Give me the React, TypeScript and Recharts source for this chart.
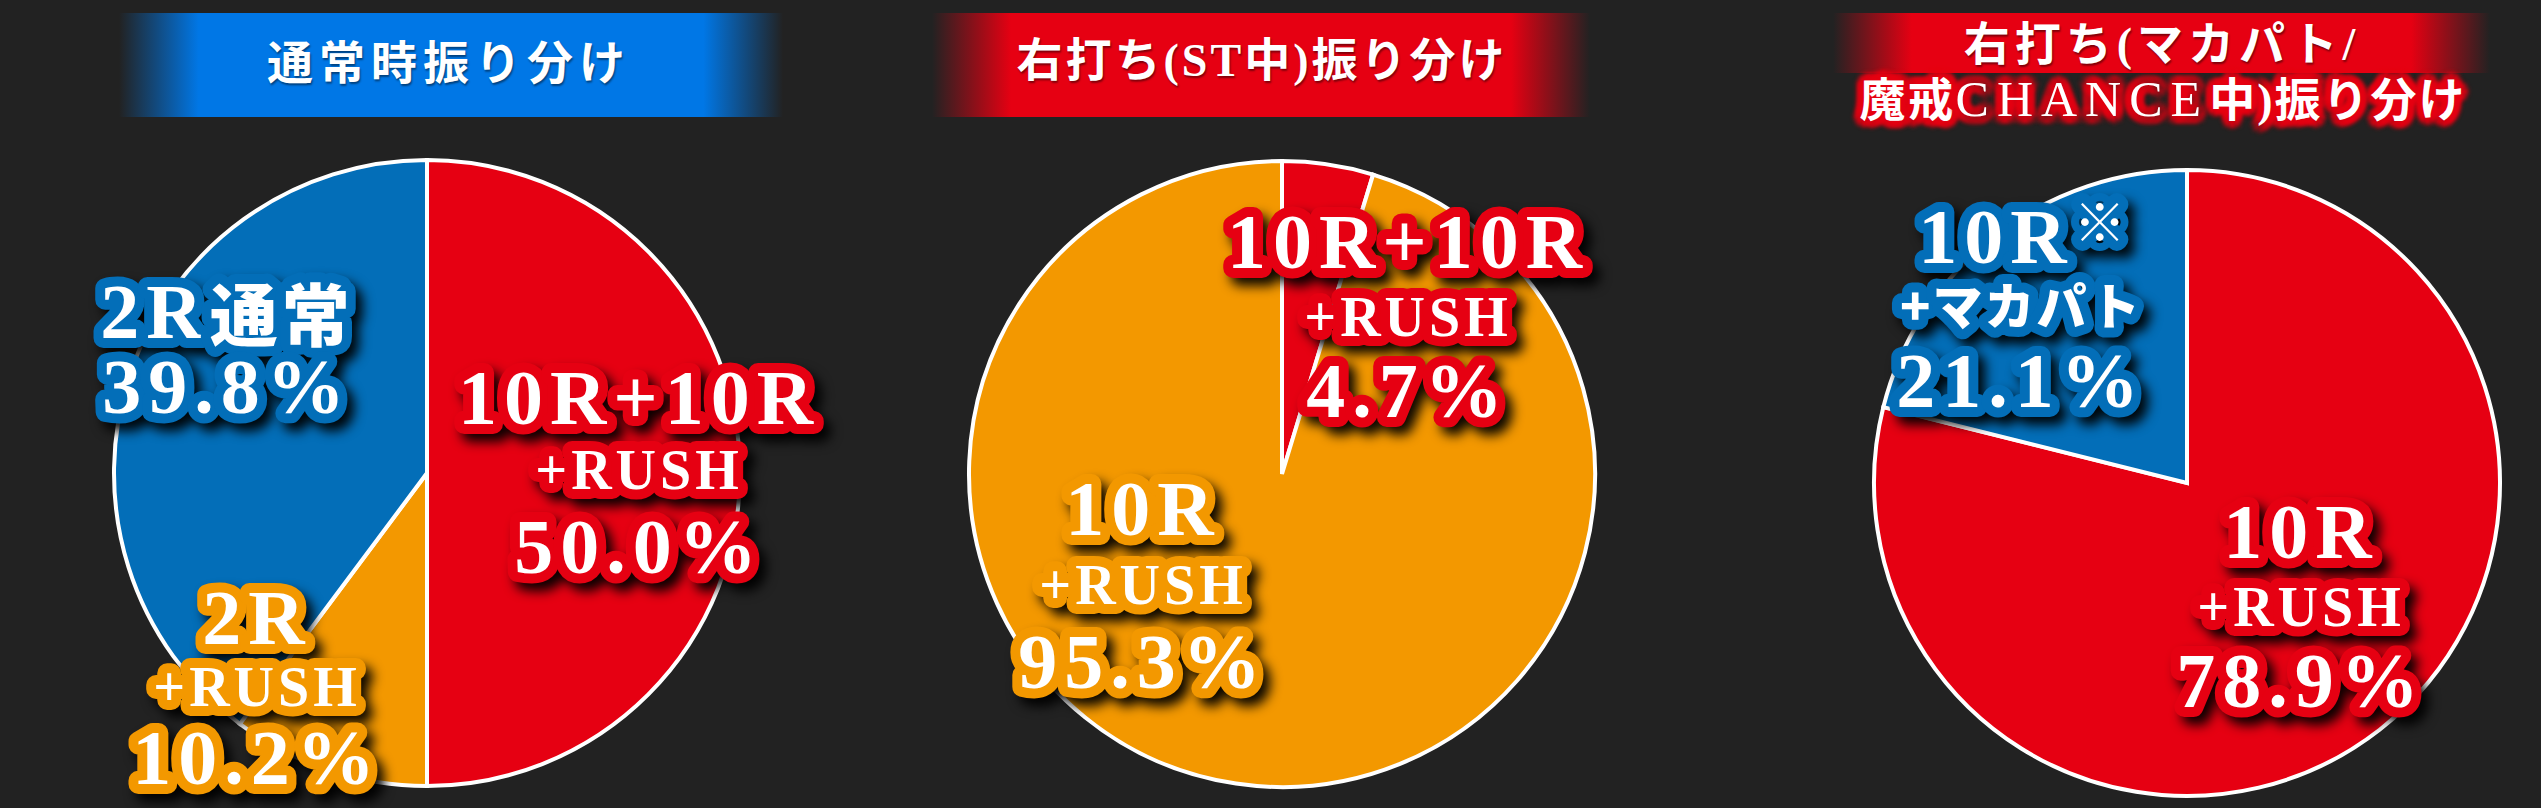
import React from 'react'
import { PieChart, Pie, Cell } from 'recharts'

const W = 2541
const H = 808

const RED = '#e60012'
const ORANGE = '#f39800'
const BLUE = '#036eb8'
const HEAD_BLUE = '#0077e6'

// 通常時振り分け
const normalHeads = [['10R+10R', '+RUSH'], ['2R', '+RUSH'], ['2R通常']]
const normalValues = [50.0, 10.2, 39.8]
const normalColors = [RED, ORANGE, BLUE]

// 右打ち(ST中)振り分け
const stHeads = [['10R+10R', '+RUSH'], ['10R', '+RUSH']]
const stValues = [4.7, 95.3]
const stColors = [RED, ORANGE]

// 右打ち(マカパト/魔戒CHANCE中)振り分け
const makaHeads = [['10R', '+RUSH'], ['10R※', '+マカパト']]
const makaValues = [78.9, 21.1]
const makaColors = [RED, BLUE]

const toRows = (heads: string[][], values: number[]) =>
  values.map((v, i) => ({ name: heads[i].join(''), value: v }))

// ラベル位置（円の中心からのずれ）
const normalSpots = [
  { dx: 212, ys: [-76, -3, 73] },
  { dx: -170, ys: [144, 214, 284] },
  { dx: -200, ys: [-162, -87] },
]
const stSpots = [
  { dx: 126, ys: [-233, -157, -84] },
  { dx: -139, ys: [34, 111, 187] },
]
const makaSpots = [
  { dx: 114, ys: [48, 124, 197] },
  { dx: -166, ys: [-247, -180, -103] },
]

const LATIN = "'Liberation Serif', 'Noto Sans CJK JP', serif"
const CJK = "'Noto Sans CJK JP', sans-serif"

const BIG = 78
const SMALL = 56
const BIG_SP = 7
const SMALL_SP = 4

// Liberation Serif Bold の字幅（em）
const ADV: Record<string, number> = {
  '0': 0.5, '1': 0.5, '2': 0.5, '3': 0.5, '4': 0.5, '5': 0.5, '6': 0.5, '7': 0.5, '8': 0.5, '9': 0.5,
  R: 0.722, U: 0.722, S: 0.556, H: 0.778, '+': 0.57, '.': 0.25, '%': 1.0,
}

type Seg = { t: string; font: string; size: number; sp: number; lift: number; width: number }

function segments(text: string, small: boolean): Seg[] {
  const size = small ? SMALL : BIG
  const sp = small ? SMALL_SP : BIG_SP
  if (text.includes('マカパト')) {
    const s = 50
    return [{ t: text, font: CJK, size: s, sp: 2, lift: 0, width: text.length * s }]
  }
  const m = text.match(/^([0-9A-Z+.%]*)(.*)$/)
  const head = m ? m[1] : text
  const rest = m ? m[2] : ''
  const out: Seg[] = []
  const w = head.split('').reduce((a, c) => a + (ADV[c] ?? 0.6) * size + sp, 0)
  out.push({ t: head, font: LATIN, size, sp, lift: 0, width: w })
  if (rest === '※') {
    out.push({ t: rest, font: CJK, size: 52, sp: 0, lift: -17, width: 50 })
  } else if (rest) {
    out.push({ t: rest, font: CJK, size: 68, sp: 4, lift: 0, width: rest.length * 72 })
  }
  return out
}

function Line({ x, y, text, color }: { x: number; y: number; text: string; color: string }) {
  const small = text.includes('RUSH') || text.includes('マカパト')
  const segs = segments(text, small)
  const total = segs.reduce((a, s) => a + s.width, 0)
  let left = x - total / 2
  return (
    <>
      {segs.map((s, k) => {
        const sx = left
        left += s.width
        return (
          <text
            key={k}
            x={segs.length === 1 ? x : sx}
            y={y + s.lift}
            textAnchor={segs.length === 1 ? 'middle' : 'start'}
            dominantBaseline="central"
            fill="#fff"
            stroke={color}
            strokeWidth={20}
            strokeLinejoin="round"
            paintOrder="stroke"
            fontFamily={s.font}
            fontWeight={s.font === CJK ? 900 : 700}
            fontSize={s.size}
            style={{ letterSpacing: s.sp }}
          >
            {s.t}
          </text>
        )
      })}
    </>
  )
}

function LabelBlock({ x, ys, lines, color }: { x: number; ys: number[]; lines: string[]; color: string }) {
  return (
    <g style={{ filter: 'drop-shadow(7px 8px 6px rgba(0,0,0,0.95))' }}>
      {lines.map((t, k) => (
        <Line key={k} x={x} y={ys[k]} text={t} color={color} />
      ))}
    </g>
  )
}

const makeLabel =
  (cx: number, cy: number, heads: string[][], values: number[], spots: { dx: number; ys: number[] }[], colors: string[]) =>
  (props: any) => {
    const i = props.index
    const spot = spots[i]
    const lines = [...heads[i], `${values[i].toFixed(1)}%`]
    return (
      <LabelBlock key={`l-${cx}-${i}`} x={cx + spot.dx} ys={spot.ys.map((v) => cy + v)} lines={lines} color={colors[i]} />
    )
  }

const PIES = [
  { cx: 427, cy: 473, heads: normalHeads, values: normalValues, colors: normalColors, spots: normalSpots },
  { cx: 1282, cy: 474, heads: stHeads, values: stValues, colors: stColors, spots: stSpots },
  { cx: 2187, cy: 483, heads: makaHeads, values: makaValues, colors: makaColors, spots: makaSpots },
]

function Band({ left, width, top, height, color }: { left: number; width: number; top: number; height: number; color: string }) {
  return (
    <div
      style={{
        position: 'absolute',
        left,
        top,
        width,
        height,
        background: `linear-gradient(to right, rgba(34,34,34,0) 0%, ${color} 12%, ${color} 88%, rgba(34,34,34,0) 100%)`,
      }}
    />
  )
}

function HeadText({
  cx, cy, children, spacing = 4, glow,
}: { cx: number; cy: number; children: React.ReactNode; spacing?: number; glow?: string }) {
  const shadow = glow
    ? [0, 45, 90, 135, 180, 225, 270, 315]
        .map((a) => {
          const r = (a * Math.PI) / 180
          return `${(Math.cos(r) * 7).toFixed(1)}px ${(Math.sin(r) * 7).toFixed(1)}px 4px ${glow}`
        })
        .join(', ')
    : '1px 2px 2px rgba(0,0,0,0.45)'
  return (
    <div
      style={{
        position: 'absolute',
        left: cx - 400,
        width: 800,
        top: cy - 30,
        height: 60,
        lineHeight: '60px',
        textAlign: 'center',
        color: '#fff',
        fontFamily: LATIN,
        fontWeight: 700,
        fontSize: 46,
        letterSpacing: spacing,
        whiteSpace: 'nowrap',
        textShadow: shadow,
      }}
    >
      {children}
    </div>
  )
}

export default function App() {
  return (
    <div style={{ position: 'absolute', left: 0, top: 0, width: W, height: H, background: '#222222', overflow: 'hidden' }}>
      <Band left={119} width={664} top={13} height={104} color={HEAD_BLUE} />
      <Band left={932} width={658} top={13} height={104} color={RED} />
      <Band left={1833} width={657} top={13} height={60} color={RED} />

      <div style={{ position: 'absolute', left: 0, top: 0 }}>
        <PieChart width={W} height={H} margin={{ top: 0, right: 0, bottom: 0, left: 0 }}>
          {PIES.map((p, n) => (
            <Pie
              key={n}
              data={toRows(p.heads, p.values)}
              dataKey="value"
              nameKey="name"
              cx={p.cx}
              cy={p.cy}
              outerRadius={313}
              startAngle={90}
              endAngle={-270}
              stroke="#ffffff"
              strokeWidth={4}
              labelLine={false}
              label={makeLabel(p.cx, p.cy, p.heads, p.values, p.spots, p.colors)}
              isAnimationActive={false}
            >
              {p.values.map((_, i) => (
                <Cell key={i} fill={p.colors[i]} />
              ))}
            </Pie>
          ))}
        </PieChart>
      </div>

      <HeadText cx={449} cy={64} spacing={6}>通常時振り分け</HeadText>
      <HeadText cx={1262} cy={61} spacing={3}>右打ち(ST中)振り分け</HeadText>
      <HeadText cx={2162} cy={45} spacing={5}>右打ち(マカパト/</HeadText>
      <HeadText cx={2163} cy={99} spacing={2} glow={RED}>
        魔戒<span style={{ letterSpacing: 8, fontWeight: 400, fontSize: 50 }}>CHANCE</span>中)振り分け
      </HeadText>
    </div>
  )
}
